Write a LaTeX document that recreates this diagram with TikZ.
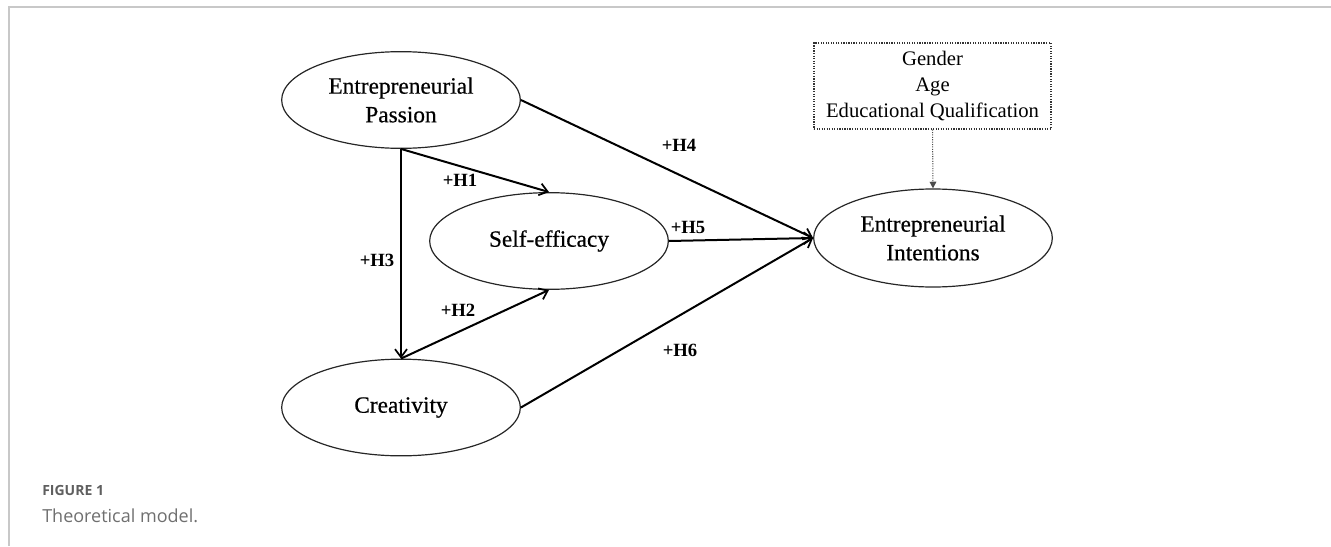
\documentclass[tikz,border=0pt]{standalone}
\usepackage{fontspec}
\setmainfont{Liberation Serif}
\newfontfamily\capfont{Open Sans}
\newfontfamily\heavyserif[FakeBold=0.5]{Liberation Serif}
\usetikzlibrary{shapes.geometric,arrows.meta}
\definecolor{framegray}{HTML}{C8C8C8}
\definecolor{capgray}{HTML}{5F5F5F}
\tikzset{
  construct/.style={ellipse, draw=black!85, line width=0.9pt, inner sep=0pt,
    minimum width=179pt, minimum height=72.5pt, align=center,
    font=\heavyserif\fontsize{17.5pt}{21.5pt}\selectfont},
  path/.style={draw=black, line width=1.5pt, -{Straight Barb[length=6pt,width=9pt,line width=1.3pt]}},
  hyp/.style={font=\bfseries\fontsize{14pt}{16pt}\selectfont, inner sep=0pt},
  ctrlbox/.style={draw=black!80, densely dotted, line width=0.9pt, minimum width=177.75pt,
    minimum height=64.5pt, inner sep=0pt, align=center,
    font=\fontsize{15.5pt}{19.5pt}\selectfont},
  ctrl/.style={draw=black!70, densely dotted, line width=0.8pt, -{Triangle[length=5pt,width=5pt]}},
  frameline/.style={draw=framegray, line width=1.6pt}
}
\begin{document}
\begin{tikzpicture}[x=0.75pt, y=-0.75pt]
\useasboundingbox (0,0) rectangle (1331,546);
% frame
\coordinate (fl) at (9,546);
\coordinate (fc) at (9,7);
\coordinate (fr) at (1331,7);
\draw[frameline] (fl) -- (fc) -- (fr);
% constructs
\node[construct] (ep) at (401,100) {Entrepreneurial\\Passion};
\node[construct] (se) at (549,241) {Self-efficacy};
\node[construct] (cr) at (401,407.5) {Creativity};
\node[construct, minimum height=73.5pt] (ei) at (933,238) {Entrepreneurial\\Intentions};
\node[ctrlbox] (box) at (932.5,86) {Gender\\Age\\Educational Qualification};
% paths
\draw[path] (ep.south) -- (cr.north);
\draw[path] (ep.south) -- (se.north);
\draw[path] (cr.north) -- (se.south);
\draw[path] (ep.east) -- (ei.west);
\draw[path] (se.east) -- (ei.west);
\draw[path] (cr.east) -- (ei.west);
\draw[ctrl] (box.south) -- (ei.north);
% labels
\node[hyp] (h1) at (460,180) {+H1};
\node[hyp] (h2) at (458,310) {+H2};
\node[hyp] (h3) at (377,260) {+H3};
\node[hyp] (h4) at (679,145) {+H4};
\node[hyp] (h5) at (688,227) {+H5};
\node[hyp] (h6) at (680,350) {+H6};
% caption
\node[anchor=west, inner sep=0pt, text=capgray, font=\capfont\bfseries\fontsize{10.5pt}{12pt}\selectfont] (fig) at (42,490) {FIGURE 1};
\node[anchor=west, inner sep=0pt, text=capgray!90, font=\capfont\fontsize{13.5pt}{16pt}\selectfont] (cap) at (42,516) {Theoretical model.};
\end{tikzpicture}
\end{document}
